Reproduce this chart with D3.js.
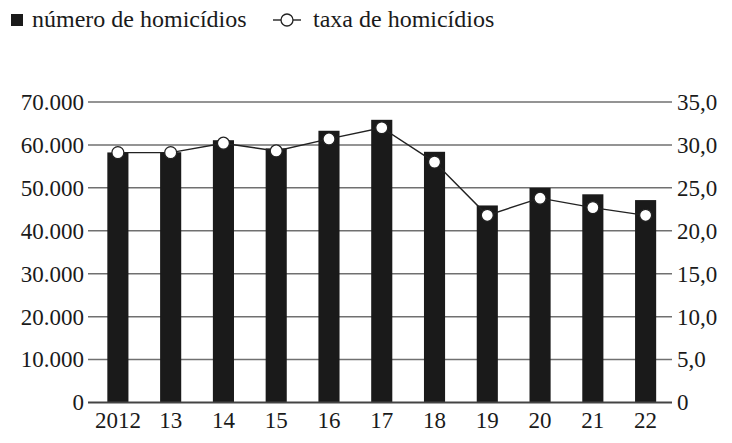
<!DOCTYPE html>
<meta charset="utf-8">
<style>
body { margin: 0; background: #fff; }
</style>
<body>
<svg id="chart"></svg>
<script src="https://cdn.jsdelivr.net/npm/d3@7"></script>
<script>

// data
var years = ["2012", "13", "14", "15", "16", "17", "18", "19", "20", "21", "22"];
var homicides = [58250, 58300, 61100, 59200, 63300, 65850, 58400, 45900, 50000, 48500, 47150];
var rates = [29.1, 29.1, 30.2, 29.3, 30.7, 32.0, 28.0, 21.8, 23.8, 22.7, 21.8];
var leftTicks = [0, 10000, 20000, 30000, 40000, 50000, 60000, 70000];
var rightTicks = [0, 5, 10, 15, 20, 25, 30, 35];

var width = 732, height = 443;
var FONT = "'Liberation Serif'";

var svg = d3.select("#chart")
    .attr("width", width)
    .attr("height", height);

var x = d3.scaleBand()
    .domain(years)
    .range([91.5, 672])
    .paddingInner(0.6)
    .paddingOuter(0.3);

var yL = d3.scaleLinear().domain([0, 70000]).range([402.5, 102]);
var yR = d3.scaleLinear().domain([0, 35]).range([402.5, 102]);

var fmtL = d => d === 0 ? "0" : d3.format(",")(d).replace(/,/g, ".");
var fmtR = d => d === 0 ? "0" : d.toFixed(1).replace(".", ",");

function styleText(sel, size) {
  sel.style("font-family", FONT)
     .style("font-size", (size || 23) + "px")
     .style("fill", "#1a1a1a");
}

// gridlines
svg.append("g")
  .selectAll("line")
  .data(leftTicks.filter(d => d > 0))
  .enter().append("line")
    .attr("x1", 88)
    .attr("x2", 672)
    .attr("y1", d => yL(d))
    .attr("y2", d => yL(d))
    .attr("stroke", "#707070")
    .attr("stroke-width", 1.5);

// left axis
var axL = svg.append("g")
    .attr("transform", "translate(88,0)")
    .call(d3.axisLeft(yL).tickValues(leftTicks).tickFormat(fmtL).tickSize(0).tickPadding(4));
axL.select(".domain").remove();
axL.selectAll("text").call(styleText);

// right axis
var axR = svg.append("g")
    .attr("transform", "translate(672,0)")
    .call(d3.axisRight(yR).tickValues(rightTicks).tickFormat(fmtR).tickSize(0).tickPadding(5));
axR.select(".domain").remove();
axR.selectAll("text").call(styleText);

// bars
svg.append("g")
  .selectAll("rect")
  .data(homicides)
  .enter().append("rect")
    .attr("x", (d, i) => x(years[i]))
    .attr("width", x.bandwidth())
    .attr("y", d => yL(d))
    .attr("height", d => yL(0) - yL(d))
    .attr("fill", "#1a1a1a");

// baseline
svg.append("line")
    .attr("x1", 88).attr("x2", 672)
    .attr("y1", yL(0)).attr("y2", yL(0))
    .attr("stroke", "#444")
    .attr("stroke-width", 2);

// x axis labels
var axB = svg.append("g")
    .attr("transform", "translate(0," + yL(0) + ")")
    .call(d3.axisBottom(x).tickSize(0).tickPadding(9));
axB.select(".domain").remove();
axB.selectAll("text").call(styleText);

// rate line
var cx = (d, i) => x(years[i]) + x.bandwidth() / 2;
var line = d3.line().x(cx).y(d => yR(d));

svg.append("path")
    .datum(rates)
    .attr("d", line)
    .attr("fill", "none")
    .attr("stroke", "#222")
    .attr("stroke-width", 1.4);

svg.append("g")
  .selectAll("circle")
  .data(rates)
  .enter().append("circle")
    .attr("cx", cx)
    .attr("cy", d => yR(d))
    .attr("r", 6)
    .attr("fill", "#fff")
    .attr("stroke", "#222")
    .attr("stroke-width", 1.3);

// legend
var lg = svg.append("g");
lg.append("rect")
    .attr("x", 11).attr("y", 14)
    .attr("width", 12).attr("height", 12)
    .attr("fill", "#1a1a1a");
lg.append("text")
    .attr("x", 32).attr("y", 27)
    .text("número de homicídios")
    .call(styleText, 24);
lg.append("line")
    .attr("x1", 273).attr("x2", 301)
    .attr("y1", 20).attr("y2", 20)
    .attr("stroke", "#222")
    .attr("stroke-width", 1.4);
lg.append("circle")
    .attr("cx", 287).attr("cy", 20)
    .attr("r", 6)
    .attr("fill", "#fff")
    .attr("stroke", "#222")
    .attr("stroke-width", 1.3);
lg.append("text")
    .attr("x", 313).attr("y", 27)
    .text("taxa de homicídios")
    .call(styleText, 24);

</script>
